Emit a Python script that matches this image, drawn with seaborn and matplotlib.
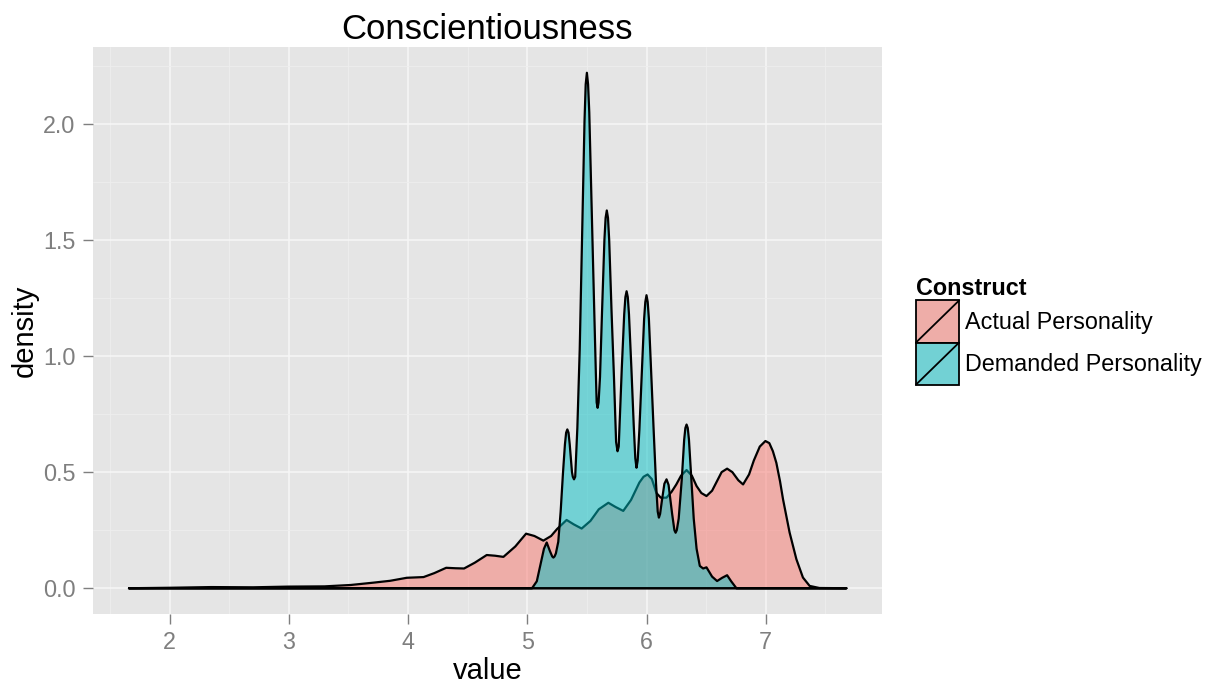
import numpy as np
import pandas as pd
import matplotlib
matplotlib.use("Agg")
import matplotlib.pyplot as plt
from matplotlib.patches import Rectangle, Patch
from matplotlib.lines import Line2D
from matplotlib.legend_handler import HandlerBase
from matplotlib.ticker import MultipleLocator
import seaborn as sns

# ---- data (density curves) ----
title = "Conscientiousness"
legend_title = "Construct"
groups = ["Actual Personality", "Demanded Personality"]

actual_x = [1.66, 2.00, 2.35, 2.70, 3.00, 3.30, 3.52, 3.71, 3.85, 3.99, 4.13, 4.22,
            4.32, 4.40, 4.47, 4.56, 4.66, 4.73, 4.80, 4.90, 4.99, 5.06, 5.135, 5.20,
            5.25, 5.33, 5.39, 5.456, 5.53, 5.60, 5.68, 5.74, 5.805, 5.87, 5.94, 5.975,
            6.009, 6.045, 6.083, 6.12, 6.168, 6.21, 6.25, 6.29, 6.336, 6.38, 6.42, 6.46,
            6.503, 6.55, 6.59, 6.63, 6.676, 6.72, 6.77, 6.81, 6.86, 6.90, 6.95, 6.997,
            7.03, 7.06, 7.089, 7.12, 7.145, 7.20, 7.257, 7.312, 7.368, 7.45, 7.676]
actual_y = [0.000, 0.002, 0.005, 0.004, 0.007, 0.008, 0.014, 0.024, 0.032, 0.045, 0.048, 0.065,
            0.088, 0.086, 0.085, 0.110, 0.143, 0.140, 0.135, 0.180, 0.235, 0.225, 0.205, 0.225,
            0.255, 0.294, 0.275, 0.257, 0.290, 0.340, 0.368, 0.350, 0.333, 0.380, 0.455, 0.480,
            0.490, 0.470, 0.410, 0.390, 0.390, 0.415, 0.447, 0.485, 0.509, 0.485, 0.440, 0.410,
            0.397, 0.420, 0.460, 0.500, 0.515, 0.500, 0.465, 0.447, 0.490, 0.550, 0.610, 0.634,
            0.625, 0.590, 0.540, 0.460, 0.383, 0.240, 0.125, 0.046, 0.010, 0.001, 0.000]

demanded_x = [1.66, 5.04, 5.08, 5.11, 5.14, 5.163, 5.19, 5.209, 5.219, 5.229, 5.24, 5.26,
              5.28, 5.30, 5.316, 5.326, 5.336, 5.346, 5.356, 5.375, 5.382, 5.392, 5.402,
              5.42, 5.44, 5.46, 5.48, 5.49, 5.50, 5.51, 5.52, 5.54, 5.56, 5.575, 5.582,
              5.59, 5.598, 5.61, 5.627, 5.647, 5.657, 5.667, 5.677, 5.687, 5.707, 5.727,
              5.745, 5.757, 5.767, 5.78, 5.793, 5.813, 5.823, 5.833, 5.843, 5.853, 5.873,
              5.893, 5.906, 5.916, 5.926, 5.94, 5.96, 5.98, 5.99, 6.00, 6.01, 6.02, 6.04,
              6.06, 6.08, 6.094, 6.104, 6.114, 6.13, 6.15, 6.168, 6.185, 6.215, 6.234,
              6.244, 6.254, 6.27, 6.296, 6.316, 6.326, 6.336, 6.346, 6.356, 6.376, 6.396,
              6.42, 6.447, 6.475, 6.503, 6.55, 6.592, 6.635, 6.676, 6.71, 6.754, 7.676]
demanded_y = [0.000, 0.000, 0.030, 0.100, 0.170, 0.197, 0.160, 0.137, 0.132, 0.137, 0.150, 0.200,
              0.330, 0.500, 0.620, 0.670, 0.684, 0.670, 0.620, 0.500, 0.480, 0.469, 0.480,
              0.690, 1.030, 1.520, 2.010, 2.170, 2.220, 2.170, 2.050, 1.640, 1.230, 0.930, 0.800,
              0.777, 0.800, 0.910, 1.190, 1.500, 1.595, 1.627, 1.595, 1.500, 1.190, 0.910,
              0.630, 0.590, 0.610, 0.780, 0.950, 1.180, 1.254, 1.279, 1.254, 1.180, 0.950,
              0.700, 0.560, 0.519, 0.550, 0.680, 0.920, 1.160, 1.233, 1.262, 1.233, 1.160, 0.920,
              0.680, 0.450, 0.330, 0.304, 0.320, 0.380, 0.450, 0.469, 0.445, 0.320, 0.250,
              0.239, 0.250, 0.300, 0.470, 0.640, 0.690, 0.705, 0.690, 0.640, 0.470, 0.300,
              0.170, 0.096, 0.085, 0.090, 0.050, 0.031, 0.045, 0.056, 0.030, 0.000, 0.000]

x_ticks = [2, 3, 4, 5, 6, 7]
y_ticks = [0.0, 0.5, 1.0, 1.5, 2.0]
y_tick_labels = ["0.0", "0.5", "1.0", "1.5", "2.0"]

# ---- style ----
sns.set_theme(style="darkgrid")
plt.rcParams["font.family"] = ["Liberation Sans", "DejaVu Sans"]

fill_colors = {"Actual Personality": "#F8766D", "Demanded Personality": "#00BFC4"}
GRID_BG = "#E5E5E5"
TICK_GREY = "#7F7F7F"

fig = plt.figure(figsize=(12.13, 6.86), dpi=100)
ax = fig.add_axes([93 / 1213, 1 - 614 / 686, (882 - 93) / 1213, (614 - 47) / 686])
ax.set_facecolor(GRID_BG)

curves = {
    "Actual Personality": (actual_x, actual_y),
    "Demanded Personality": (demanded_x, demanded_y),
}

z = 2
for name in groups:
    xs, ys = curves[name]
    df = pd.DataFrame({"value": xs, "density": ys})
    ax.fill_between(df["value"], df["density"], 0, color=fill_colors[name],
                    alpha=0.5, linewidth=0, zorder=z)
    # closed outline (curve + baseline), like ggplot's polygon
    outline = pd.concat([df, df.iloc[[0]]], ignore_index=True)
    sns.lineplot(data=outline, x="value", y="density", sort=False, estimator=None,
                 color="black", linewidth=1.6, ax=ax, zorder=z + 0.5)
    z += 1

ax.set_xlim(1.358, 7.975)
ax.set_ylim(-0.111, 2.331)

ax.set_xticks(x_ticks)
ax.set_yticks(y_ticks)
ax.set_yticklabels(y_tick_labels)
ax.xaxis.set_minor_locator(MultipleLocator(0.5))
ax.yaxis.set_minor_locator(MultipleLocator(0.25))

ax.grid(which="major", color="#F7F7F7", linewidth=1.1)
ax.grid(which="minor", color="#EEEEEE", linewidth=0.6)
ax.set_axisbelow(True)
for s in ax.spines.values():
    s.set_visible(False)

ax.tick_params(axis="both", which="major", length=7.5, width=1, color=TICK_GREY,
               labelcolor=TICK_GREY, labelsize=16.8, pad=5, bottom=True, left=True)
ax.tick_params(axis="both", which="minor", length=0)

ax.set_xlabel("value", fontsize=21, labelpad=2, color="black")
ax.set_ylabel("density", fontsize=21, labelpad=3, color="black")
ax.set_title(title, fontsize=25, pad=6, color="black")


class DiagHandler(HandlerBase):
    def create_artists(self, legend, orig_handle, xdescent, ydescent, width, height,
                       fontsize, trans):
        x0, y0 = -xdescent, -ydescent
        bg = Rectangle((x0, y0), width, height, facecolor=GRID_BG, edgecolor="none",
                       transform=trans)
        r = Rectangle((x0, y0), width, height, facecolor=orig_handle.get_facecolor(),
                      edgecolor="black", linewidth=1.3, transform=trans)
        ln = Line2D([x0, x0 + width], [y0, y0 + height], color="black", linewidth=1.3,
                    transform=trans)
        return [bg, r, ln]


handles = [Patch(facecolor=matplotlib.colors.to_rgba(fill_colors[g], 0.5)) for g in groups]

leg = fig.legend(handles, groups, title=legend_title, loc="center left",
                 bbox_to_anchor=(916 / 1213, 1 - 331 / 686), frameon=False,
                 fontsize=16.8, title_fontproperties={"weight": "bold", "size": 16.8},
                 handler_map={Patch: DiagHandler()}, handlelength=1.85, handleheight=2.4,
                 handletextpad=0.26, labelspacing=0.0, borderpad=0.0, borderaxespad=0.0,
                 alignment="left")
for t in leg.get_texts():
    t.set_color("black")
leg.get_title().set_color("black")

fig.savefig("out.png", dpi=100)
